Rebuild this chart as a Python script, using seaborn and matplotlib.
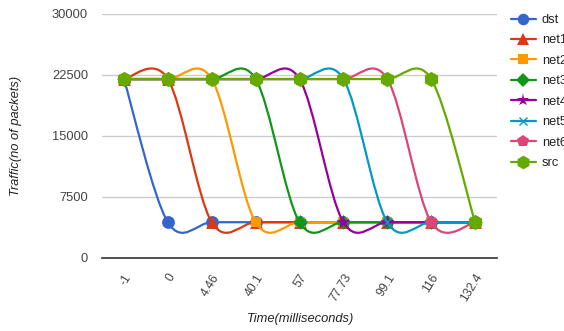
import numpy as np
import pandas as pd
import matplotlib
matplotlib.use("Agg")
import matplotlib.pyplot as plt
from matplotlib.path import Path
from matplotlib.patches import PathPatch
from matplotlib.lines import Line2D
import seaborn as sns

# data
times = ["-1", "0", "4.46", "40.1", "57", "77.73", "99.1", "116", "132.4"]
dst = [22000, 4400, 4400, 4400, 4400, 4400, 4400, 4400, 4400]
net1 = [22000, 22000, 4400, 4400, 4400, 4400, 4400, 4400, 4400]
net2 = [22000, 22000, 22000, 4400, 4400, 4400, 4400, 4400, 4400]
net3 = [22000, 22000, 22000, 22000, 4400, 4400, 4400, 4400, 4400]
net4 = [22000, 22000, 22000, 22000, 22000, 4400, 4400, 4400, 4400]
net5 = [22000, 22000, 22000, 22000, 22000, 22000, 4400, 4400, 4400]
net6 = [22000, 22000, 22000, 22000, 22000, 22000, 22000, 4400, 4400]
src = [22000, 22000, 22000, 22000, 22000, 22000, 22000, 22000, 4400]

series_names = ["dst", "net1", "net2", "net3", "net4", "net5", "net6", "src"]
series_vals = [dst, net1, net2, net3, net4, net5, net6, src]
colors = ["#3366cc", "#dc3912", "#ff9900", "#109618", "#990099", "#0099c6", "#dd4477", "#66aa00"]
markers = ["o", "^", "s", "D", "*", "x", "p", "h"]
msizes = [85, 85, 60, 55, 110, 35, 95, 120]

sns.set_theme(style="white")
plt.rcParams["font.family"] = ["Liberation Sans", "DejaVu Sans"]

fig = plt.figure(figsize=(5.64, 3.31), dpi=100)
ax = fig.add_axes([102 / 564, 1 - 258 / 331, 395 / 564, 244 / 331])


def smooth_path(ys):
    # cubic bezier through the points (like the "function" curve type)
    pts = [(float(i), float(y)) for i, y in enumerate(ys)]
    n = len(pts)
    verts = [pts[0]]
    codes = [Path.MOVETO]
    for i in range(n - 1):
        p0 = np.array(pts[i - 1] if i > 0 else pts[i])
        p1 = np.array(pts[i])
        p2 = np.array(pts[i + 1])
        p3 = np.array(pts[i + 2] if i + 2 < n else pts[i + 1])
        c1 = p1 + (p2 - p0) / 6
        c2 = p2 - (p3 - p1) / 6
        verts += [tuple(c1), tuple(c2), tuple(p2)]
        codes += [Path.CURVE4] * 3
    return Path(verts, codes)


for k, (name, vals) in enumerate(zip(series_names, series_vals)):
    patch = PathPatch(smooth_path(vals), facecolor="none", edgecolor=colors[k],
                      lw=1.6, zorder=3 + 2 * k, capstyle="round", joinstyle="round")
    ax.add_patch(patch)
    df = pd.DataFrame({"t": np.arange(len(times)), "v": vals})
    sns.scatterplot(data=df, x="t", y="v", ax=ax, color=colors[k], marker=markers[k],
                    s=msizes[k], linewidth=1.0 if markers[k] == "x" else 0,
                    edgecolor=colors[k], zorder=4 + 2 * k, legend=False)

ax.set_xlim(-0.5, len(times) - 0.5)
ax.set_ylim(0, 30000)
ax.set_yticks([0, 7500, 15000, 22500, 30000])
ax.set_yticklabels(["0", "7500", "15000", "22500", "30000"])
ax.set_xticks(np.arange(len(times)))
ax.set_xticklabels(times, rotation=58, ha="right", va="top", rotation_mode="anchor")
ax.tick_params(axis="both", length=0, labelsize=9.3, labelcolor="#444444")
ax.tick_params(axis="x", pad=10, labelsize=8.8)
ax.tick_params(axis="y", pad=10)
ax.yaxis.grid(True, color="#cccccc", lw=1)
ax.xaxis.grid(False)
ax.set_axisbelow(True)
for s in ["top", "right", "left"]:
    ax.spines[s].set_visible(False)
ax.spines["bottom"].set_color("#333333")
ax.spines["bottom"].set_linewidth(1.2)

ax.set_xlabel("")
ax.set_ylabel("")
fig.text(300 / 564, 1 - 319 / 331, "Time(milliseconds)", ha="center", va="center",
         style="italic", fontsize=9.3, color="#222222")
fig.text(16 / 564, 1 - 136 / 331, "Traffic(no of packets)", ha="center", va="center",
         rotation=90, style="italic", fontsize=9.3, color="#222222")

handles = [Line2D([0], [0], color=c, lw=1.6, marker=m, markersize=np.sqrt(s) * 0.9,
                  markeredgewidth=1.0 if m == "x" else 0)
           for c, m, s in zip(colors, markers, msizes)]
fig.legend(handles, series_names, loc="upper left", bbox_to_anchor=(511 / 564, 1 - 14 / 331),
           frameon=False, fontsize=9.3, handlelength=1.9, handletextpad=0.5,
           labelspacing=0.65, borderaxespad=0, borderpad=0, labelcolor="#222222")

fig.savefig("out.png", dpi=100)
